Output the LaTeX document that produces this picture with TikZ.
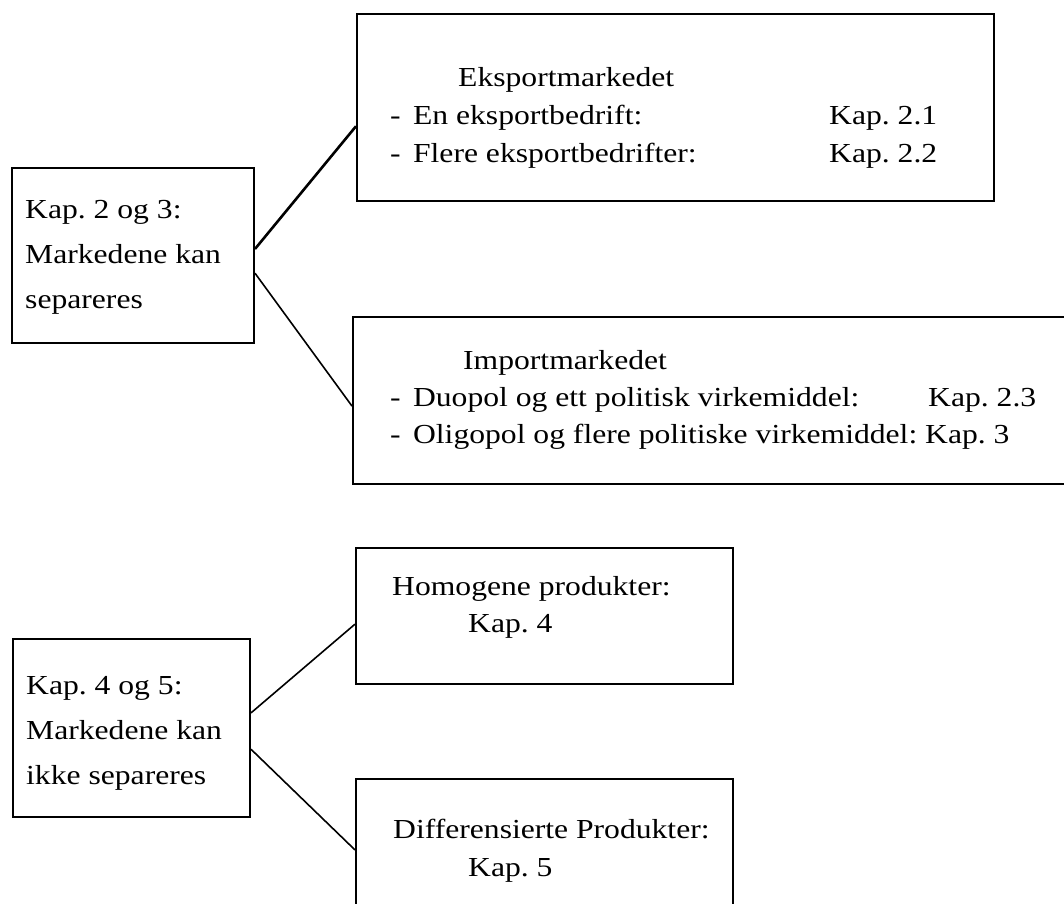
\documentclass[tikz,border=0pt]{standalone}
\usepackage{fontspec}
\setmainfont{Liberation Serif}[FakeStretch=1.15]
\usetikzlibrary{calc}
\newcommand\itemdash{-\hspace{0.45em}}
\frenchspacing
\begin{document}
\begin{tikzpicture}[x=1pt,y=-1pt,
  box/.style={draw, line width=2pt, inner sep=0pt, anchor=north west},
  txt/.style={anchor=base west, inner sep=0pt, font=\fontsize{27.5}{33}\selectfont\frenchspacing},
  conn/.style={line width=1.6pt},
  thickconn/.style={line width=2.6pt}]
\clip (0,0) rectangle (1064,903);
\fill[white] (0,0) rectangle (1064,903);
% boxes
\node[box, minimum width=242pt, minimum height=175pt] (A) at (11,167) {};
\node[box, minimum width=637pt, minimum height=187pt] (E) at (356,13) {};
\node[box, minimum width=740pt, minimum height=167pt] (I) at (352,316) {};
\node[box, minimum width=237pt, minimum height=178pt] (B) at (12,638) {};
\node[box, minimum width=377pt, minimum height=136pt] (H) at (355,547) {};
\node[box, minimum width=377pt, minimum height=152pt] (D) at (355,778) {};
% texts
\node[txt] (a1) at (25,218) {Kap. 2 og 3:};
\node[txt] (a2) at (25,263) {Markedene kan};
\node[txt] (a3) at (25,308) {separeres};
\node[txt] (b1) at (26,694) {Kap. 4 og 5:};
\node[txt] (b2) at (26,739) {Markedene kan};
\node[txt] (b3) at (26,784) {ikke separeres};
\node[txt] (e0) at (458,86) {Eksportmarkedet};
\node[txt] (e1) at (390,124) {\itemdash En eksportbedrift:};
\node[txt] (e1k) at (829,124) {Kap. 2.1};
\node[txt] (e2) at (390,162) {\itemdash Flere eksportbedrifter:};
\node[txt] (e2k) at (829,162) {Kap. 2.2};
\node[txt] (i0) at (463,369) {Importmarkedet};
\node[txt] (i1) at (390,406) {\itemdash Duopol og ett politisk virkemiddel:};
\node[txt] (i1k) at (928,406) {Kap. 2.3};
\node[txt] (i2) at (390,443) {\itemdash Oligopol og flere politiske virkemiddel: Kap. 3};
\node[txt] (h1) at (392,595) {Homogene produkter:};
\node[txt] (h2) at (468,632) {Kap. 4};
\node[txt] (d1) at (393,838) {Differensierte Produkter:};
\node[txt] (d2) at (468,876) {Kap. 5};
% connectors
\draw[thickconn] ($(A.north east)!0.463!(A.south east)$) -- ($(E.north west)!0.599!(E.south west)$);
\draw[conn] ($(A.north east)!0.6!(A.south east)$) -- ($(I.north west)!0.533!(I.south west)$);
\draw[conn] ($(B.north east)!0.416!(B.south east)$) -- ($(H.north west)!0.559!(H.south west)$);
\draw[conn] ($(B.north east)!0.618!(B.south east)$) -- ($(D.north west)!0.467!(D.south west)$);
\end{tikzpicture}
\end{document}
